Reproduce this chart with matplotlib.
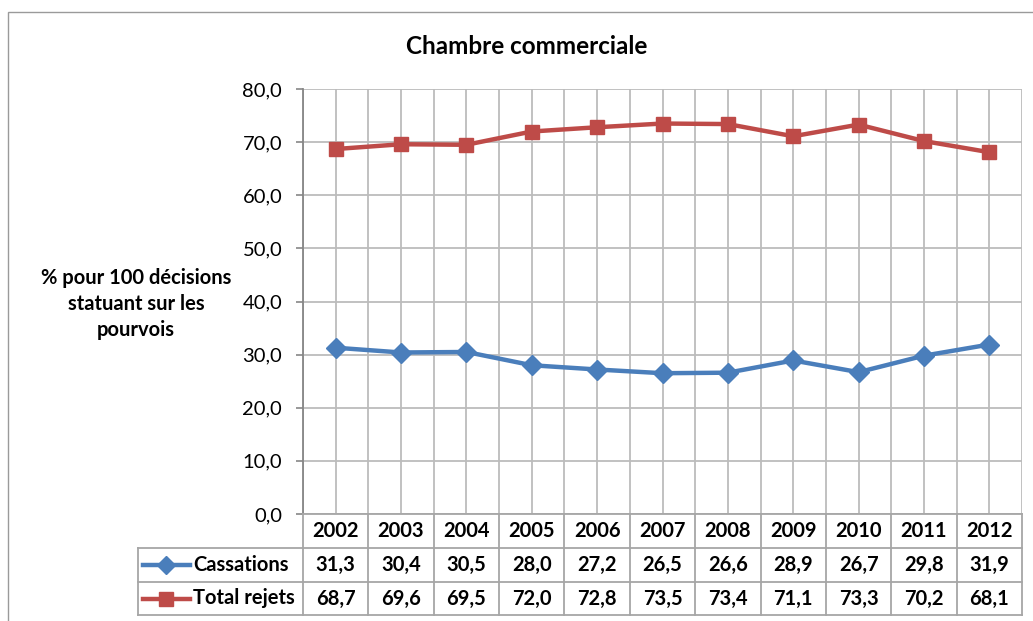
import numpy as np
import matplotlib
matplotlib.use("Agg")
import matplotlib.pyplot as plt
import matplotlib.transforms as mtransforms
from matplotlib.ticker import FuncFormatter, MultipleLocator
from matplotlib.patches import Rectangle

# ---- data ----
years = ["2002", "2003", "2004", "2005", "2006", "2007", "2008", "2009", "2010", "2011", "2012"]
cassations = [31.3, 30.4, 30.5, 28.0, 27.2, 26.5, 26.6, 28.9, 26.7, 29.8, 31.9]
rejets = [68.7, 69.6, 69.5, 72.0, 72.8, 73.5, 73.4, 71.1, 73.3, 70.2, 68.1]
series_names = ["Cassations", "Total rejets"]
title = "Chambre commerciale"
ylabel = "% pour 100 décisions\nstatuant sur les\npourvois"

plt.rcParams['font.family'] = ['Lato', 'DejaVu Sans']

W, H = 1033, 621
fig = plt.figure(figsize=(W / 100, H / 100), dpi=100)

# outer chart border
fig.add_artist(Rectangle((8 / W, -0.1), 1.2, 1 - 12 / H + 0.1, transform=fig.transFigure,
                         fill=False, ec="#9a9a9a", lw=1.0))

L, R, T, B = 303, 1022, 89, 514
ax = fig.add_axes([L / W, 1 - B / H, (R - L) / W, (B - T) / H])
n = len(years)
x = np.arange(n)
ax.set_xlim(-0.5, n - 0.5)
ax.set_ylim(0, 80)
ax.yaxis.set_major_locator(MultipleLocator(10))
ax.yaxis.set_major_formatter(FuncFormatter(lambda v, p: f"{v:.1f}".replace('.', ',')))
ax.set_xticks([])
ax.tick_params(axis='y', length=5, width=1.2, color="#868686", pad=10, labelsize=14.5)

grid_c = "#bcbcbc"
ax.grid(axis='y', color=grid_c, lw=1.3, zorder=0)
for k in np.arange(-0.5, n, 0.5):
    ax.axvline(k, color=grid_c, lw=1.3, zorder=0)
for s in ["top", "right", "bottom"]:
    ax.spines[s].set_visible(False)
ax.spines["left"].set_color("#868686")
ax.spines["left"].set_linewidth(1.3)

blue = "#4A7EBB"
red = "#BE4B48"
ax.plot(x, cassations, color=blue, lw=3.2, marker='D', ms=10, mec=blue, zorder=4, clip_on=False)
ax.plot(x, rejets, color=red, lw=3.2, marker='s', ms=10.5, mec=red, zorder=4, clip_on=False)

fig.text(527 / W, 1 - 47 / H, title, ha='center', va='center', fontsize=17.5, fontweight='bold')
fig.text(136 / W, 1 - 304 / H, ylabel, ha='center', va='center', fontsize=14.5,
         fontweight='bold', linespacing=1.4)

# ---- data table ----
trans = mtransforms.blended_transform_factory(ax.transData, ax.transAxes)
ppu = (R - L) / n


def yf(py):
    return (B - py) / (B - T)


def xd(px):
    return -0.5 + (px - L) / ppu


rows = [514, 548, 582, 615]
tcol = "#a6a6a6"
lkw = dict(transform=trans, clip_on=False, color=tcol, lw=1.3, zorder=5)
ax.plot([xd(L), xd(R)], [yf(rows[0])] * 2, **lkw)
for r in rows[1:]:
    ax.plot([xd(138), xd(R)], [yf(r)] * 2, **lkw)
for k in np.arange(-0.5, n + 0.5, 1.0):
    ax.plot([k, k], [yf(rows[0]), yf(rows[-1])], **lkw)
ax.plot([xd(138), xd(138)], [yf(rows[1]), yf(rows[-1])], **lkw)

tkw = dict(transform=trans, clip_on=False, ha='center', va='center', fontsize=14.5, fontweight='bold')
for i, yr in enumerate(years):
    ax.text(i, yf((rows[0] + rows[1]) / 2), yr, **tkw)
    ax.text(i, yf((rows[1] + rows[2]) / 2), f"{cassations[i]:.1f}".replace('.', ','), **tkw)
    ax.text(i, yf((rows[2] + rows[3]) / 2), f"{rejets[i]:.1f}".replace('.', ','), **tkw)

for j, (name, col, mk, ms) in enumerate([(series_names[0], blue, 'D', 9),
                                         (series_names[1], red, 's', 10)]):
    yy = yf((rows[j + 1] + rows[j + 2]) / 2)
    ax.plot([xd(143), xd(190)], [yy, yy], transform=trans, clip_on=False, color=col, lw=3.2, zorder=6)
    ax.plot([xd(166)], [yy], transform=trans, clip_on=False, color=col, marker=mk, ms=ms, zorder=6)
    ax.text(xd(193), yy, name, transform=trans, clip_on=False, ha='left', va='center',
            fontsize=14.5, fontweight='bold')

fig.savefig("out.png", dpi=100)
